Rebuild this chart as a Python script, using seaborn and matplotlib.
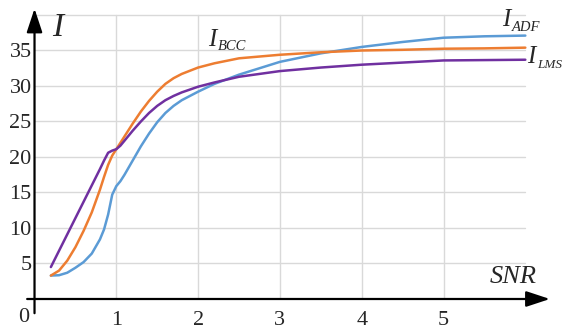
import pandas as pd
import matplotlib
matplotlib.use("Agg")
import matplotlib.pyplot as plt
import seaborn as sns

# SNR-waarden (gemeenschappelijk voor alle drie de curves)
snr = [0.2, 0.3, 0.4, 0.5, 0.6, 0.7, 0.8, 0.85, 0.9, 0.95, 1.0, 1.05, 1.1, 1.2, 1.3, 1.4,
       1.5, 1.6, 1.7, 1.8, 2.0, 2.2, 2.5, 3.0, 3.5, 4.0, 4.5, 5.0, 5.5, 6.0]

i_lms = [4.5, 6.8, 9.1, 11.4, 13.7, 16.0, 18.3, 19.5, 20.6, 20.9, 21.1, 21.6, 22.3, 23.7, 25.0, 26.2,
         27.2, 28.0, 28.6, 29.1, 29.9, 30.5, 31.3, 32.1, 32.6, 33.0, 33.3, 33.6, 33.65, 33.7]

i_bcc = [3.3, 4.0, 5.4, 7.3, 9.6, 12.2, 15.4, 17.2, 18.9, 20.2, 21.1, 22.0, 22.9, 24.7, 26.4, 27.9,
         29.2, 30.3, 31.1, 31.7, 32.6, 33.2, 33.9, 34.4, 34.75, 35.0, 35.1, 35.25, 35.3, 35.4]

i_adf = [3.3, 3.35, 3.7, 4.4, 5.2, 6.4, 8.4, 9.8, 11.9, 14.7, 15.9, 16.6, 17.5, 19.5, 21.5, 23.3,
         24.9, 26.2, 27.2, 28.0, 29.2, 30.3, 31.6, 33.4, 34.6, 35.5, 36.2, 36.8, 37.0, 37.1]

series = ["ADF", "BCC", "LMS"]
colors = {"ADF": "#5B9BD5", "BCC": "#ED7D31", "LMS": "#7030A0"}

x_ticks = [1, 2, 3, 4, 5]
y_ticks = [5, 10, 15, 20, 25, 30, 35]

df = pd.concat([
    pd.DataFrame({"SNR": snr, "I": i_adf, "method": "ADF"}),
    pd.DataFrame({"SNR": snr, "I": i_bcc, "method": "BCC"}),
    pd.DataFrame({"SNR": snr, "I": i_lms, "method": "LMS"}),
], ignore_index=True)

sns.set_style("white")
plt.rcParams["font.family"] = ["Liberation Serif", "DejaVu Serif"]
serif = "Liberation Serif"

fig = plt.figure(figsize=(5.64, 3.32), dpi=100)
ax = fig.add_axes([0.0612, 0.0994, 0.921, 0.8875])

# rasterlijnen (alleen tot SNR=6 en I=40)
for yv in y_ticks + [40]:
    ax.plot([0, 6], [yv, yv], color="#D9D9D9", lw=1.0, zorder=0)
for xv in x_ticks:
    ax.plot([xv, xv], [0, 40], color="#D9D9D9", lw=1.0, zorder=0)

sns.lineplot(data=df, x="SNR", y="I", hue="method", hue_order=series, palette=colors,
             linewidth=1.8, legend=False, ax=ax, zorder=3)

ax.set_xlim(0, 6.35)
ax.set_ylim(0, 41.5)
for s in ax.spines.values():
    s.set_visible(False)
ax.set_xlabel("")
ax.set_ylabel("")
ax.set_xticks(x_ticks, labels=[str(v) for v in x_ticks])
ax.set_yticks(y_ticks, labels=[str(v) for v in y_ticks])
ax.tick_params(axis="x", length=0, pad=9, labelsize=16, labelfontfamily=serif)
ax.tick_params(axis="y", length=0, pad=2, labelsize=16, labelfontfamily=serif)

# assen met pijlen
arrow = dict(arrowstyle="-|>,head_length=1.0,head_width=0.33", mutation_scale=14.5,
             color="black", lw=1.6, shrinkA=0, shrinkB=0)
ax.annotate("", xy=(6.3, 0), xytext=(-0.09, 0), arrowprops=arrow, annotation_clip=False)
ax.annotate("", xy=(0, 40.9), xytext=(0, -2.0), arrowprops=arrow, annotation_clip=False)

ax.annotate("0", xy=(-0.128, 0), xytext=(0, -6.5), textcoords="offset points",
            ha="center", va="top", fontsize=16, family=serif, annotation_clip=False)

ax.text(0.214, 37.0, "I", fontsize=24, style="italic", family=serif, ha="left", va="baseline")
ax.text(5.57, 2.25, "SNR", fontsize=19, style="italic", family=serif, ha="left", va="baseline")

# curve-labels met subscript
labels = [("BCC", 2.12, 35.6, 2.24, 35.0, 10.5),
          ("ADF", 5.72, 38.45, 5.84, 37.75, 10.5),
          ("LMS", 6.02, 33.24, 6.15, 32.5, 9.5)]
for name, xi, yi, xs, ys, fs in labels:
    ax.text(xi, yi, "I", fontsize=18, style="italic", family=serif, ha="left", va="baseline")
    ax.text(xs, ys, name, fontsize=fs, style="italic", family=serif, ha="left", va="baseline")

fig.savefig("out.png", dpi=100)
